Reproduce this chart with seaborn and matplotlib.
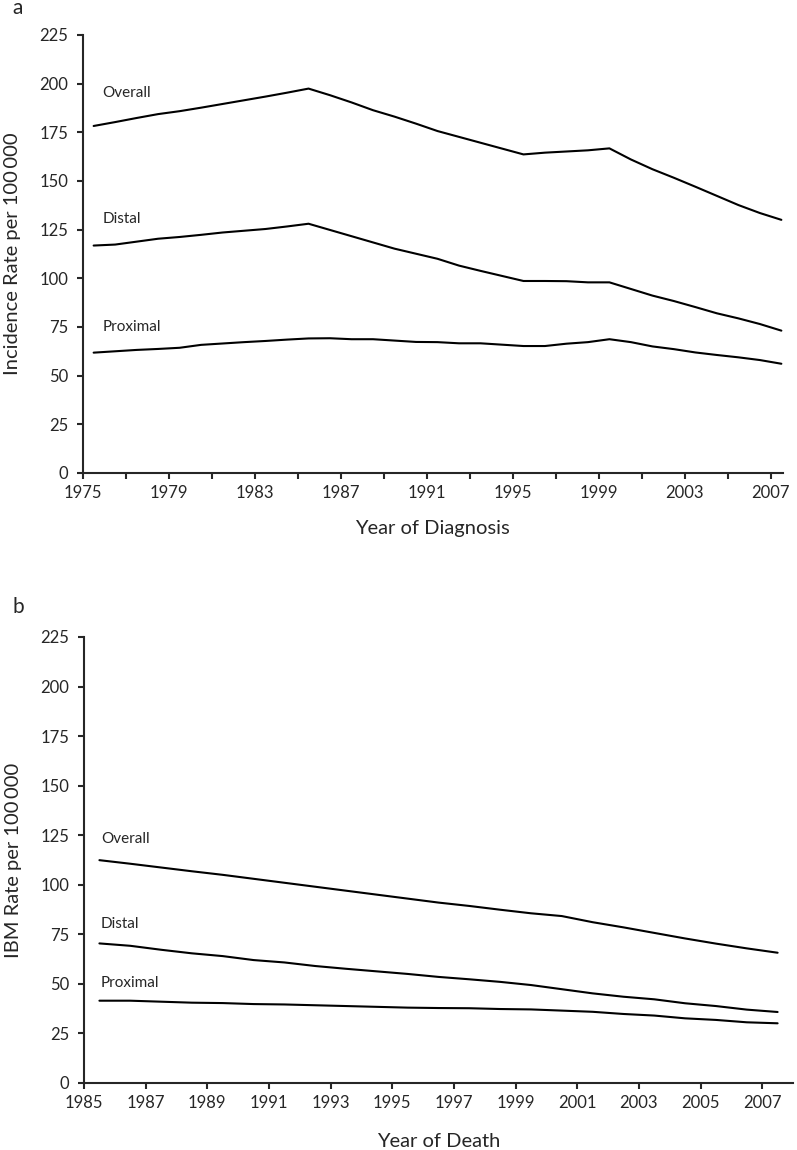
import pandas as pd
import matplotlib.pyplot as plt
import seaborn as sns

# panel a: incidence by year of diagnosis
YEARS_DIAG = list(range(1975, 2008))
OVERALL_INC = [178.2, 180.2, 182.3, 184.3, 185.8, 187.6, 189.5, 191.4, 193.3, 195.3,
               197.4, 194.0, 190.3, 186.3, 183.0, 179.4, 175.6, 172.6, 169.6, 166.6,
               163.6, 164.5, 165.1, 165.7, 166.7, 161.0, 156.0, 151.6, 147.0, 142.3,
               137.6, 133.5, 130.0]
DISTAL_INC = [116.8, 117.3, 118.8, 120.3, 121.2, 122.3, 123.5, 124.4, 125.3, 126.6,
              128.0, 124.8, 121.6, 118.4, 115.2, 112.6, 110.0, 106.5, 103.8, 101.2,
              98.6, 98.6, 98.5, 97.9, 97.9, 94.5, 91.1, 88.3, 85.2, 82.0,
              79.4, 76.5, 73.1]
PROXIMAL_INC = [61.8, 62.5, 63.2, 63.7, 64.3, 65.8, 66.5, 67.2, 67.8, 68.5,
                69.1, 69.2, 68.7, 68.7, 68.0, 67.3, 67.2, 66.6, 66.6, 65.9,
                65.2, 65.2, 66.4, 67.2, 68.7, 67.2, 65.0, 63.6, 61.9, 60.6,
                59.4, 58.0, 56.1]

# panel b: incidence-based mortality by year of death
YEARS_DEATH = list(range(1985, 2008))
OVERALL_IBM = [112.4, 110.6, 108.7, 106.8, 105.0, 103.0, 101.0, 99.0, 97.0, 95.0,
               93.0, 91.0, 89.3, 87.4, 85.6, 84.2, 81.1, 78.5, 75.7, 72.9,
               70.3, 67.9, 65.7]
DISTAL_IBM = [70.4, 69.2, 67.2, 65.4, 64.0, 62.0, 60.8, 59.0, 57.6, 56.3,
              55.0, 53.5, 52.3, 51.0, 49.4, 47.3, 45.2, 43.5, 42.2, 40.2,
              38.8, 37.0, 35.8]
PROXIMAL_IBM = [41.5, 41.5, 41.0, 40.5, 40.3, 39.8, 39.6, 39.2, 38.8, 38.4,
                38.0, 37.8, 37.7, 37.3, 37.1, 36.5, 35.9, 34.8, 34.0, 32.6,
                31.8, 30.6, 30.1]

SITES = ["Overall", "Distal", "Proximal"]
LINE_W = 1.5


def draw_panel(ax, years, values, label_x, label_y, xticks, xticklabels, xlim, xlabel, ylabel):
    df = pd.DataFrame({"year": years})
    for name, vals in zip(SITES, values):
        df[name] = vals
    df = df.melt(id_vars="year", var_name="site", value_name="rate")
    # each year's value sits in the middle of its year interval
    df["pos"] = df["year"] + 0.5
    sns.lineplot(data=df, x="pos", y="rate", units="site", estimator=None,
                 color="black", lw=LINE_W, ax=ax)
    for name, ly in zip(SITES, label_y):
        ax.text(label_x, ly, name, fontsize=11, ha="left", va="center")

    ax.set_xlim(*xlim)
    ax.set_ylim(0, 225)
    ax.set_yticks(range(0, 226, 25))
    ax.set_xticks(xticks)
    ax.set_xticklabels(xticklabels)
    ax.tick_params(axis="both", labelsize=12, length=4.5, width=LINE_W, direction="out", pad=4)
    ax.tick_params(axis="y", pad=6)
    sns.despine(ax=ax)
    for side in ["left", "bottom"]:
        ax.spines[side].set_linewidth(LINE_W)
    ax.set_xlabel(xlabel, fontsize=14.5)
    ax.set_ylabel(ylabel, fontsize=14.5)


sns.set_theme(style="ticks")
plt.rcParams["font.family"] = ["Lato", "DejaVu Sans"]

fig = plt.figure(figsize=(7.97, 11.5), dpi=100)
ax_a = fig.add_axes([0.104, 0.5887, 0.878, 0.381])
ax_b = fig.add_axes([0.1054, 0.0583, 0.8896, 0.3878])

ticks_a = list(range(1975, 2008, 2))
labels_a = [str(y) if (y - 1975) % 4 == 0 else "" for y in ticks_a]
draw_panel(ax_a, YEARS_DIAG, [OVERALL_INC, DISTAL_INC, PROXIMAL_INC],
           1975.9, [195, 130.4, 75.2], ticks_a, labels_a, (1975, 2007.56),
           "Year of Diagnosis", "Incidence Rate per 100\u2009000")

ticks_b = list(range(1985, 2008, 2))
draw_panel(ax_b, YEARS_DEATH, [OVERALL_IBM, DISTAL_IBM, PROXIMAL_IBM],
           1985.55, [123, 80.1, 50.2], ticks_b, [str(y) for y in ticks_b], (1985, 2008),
           "Year of Death", "IBM Rate per 100\u2009000")

ax_a.xaxis.set_label_coords(0.5, -0.107)
ax_b.xaxis.set_label_coords(0.5, -0.112)
ax_a.yaxis.set_label_coords(-0.088, 0.5)
ax_b.yaxis.set_label_coords(-0.088, 0.5)

fig.text(12 / 797, 1 - 14 / 1150, "a", fontsize=15, va="baseline")
fig.text(12 / 797, 1 - 613 / 1150, "b", fontsize=15, va="baseline")

fig.savefig("out.png", dpi=100)
